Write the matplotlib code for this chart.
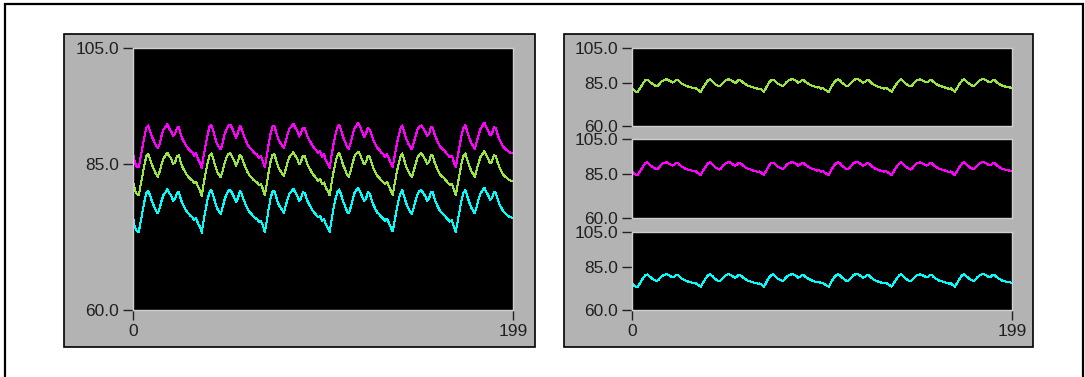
import numpy as np
import matplotlib.pyplot as plt
from matplotlib.patches import Rectangle

plt.rcParams['font.family'] = ['Liberation Sans', 'DejaVu Sans']

# values, one sample per x step (0..199)
green = [82.2, 80.6, 79.9,
         79.7, 81.4, 83.2, 85.0, 86.4, 86.8, 85.9, 84.9, 84.1, 83.4, 82.9, 83.8, 85.1, 86.1, 86.5, 87.0, 86.4,
         86.0, 85.1, 85.3, 86.4, 86.6, 85.4, 84.5, 83.9, 83.3, 82.9, 82.5, 82.3, 81.8, 82.0, 81.2, 80.6,
         79.6, 81.7, 83.5, 85.2, 86.5, 86.9, 86.0, 84.8, 83.8, 83.2, 82.8, 84.0, 85.3, 86.2, 86.8, 86.9, 86.3,
         85.6, 84.8, 85.6, 86.7, 86.2, 85.2, 84.4, 83.7, 83.1, 82.8, 82.4, 82.1, 81.9, 81.4, 81.6, 80.8,
         79.7, 81.5, 83.6, 85.4, 86.6, 86.8, 85.7, 84.6, 84.0, 83.5, 83.0, 84.2, 85.4, 86.3, 86.7, 87.1, 86.5,
         86.0, 85.0, 85.5, 86.5, 86.4, 85.3, 84.6, 84.0, 83.4, 83.0, 82.6, 82.2, 82.5, 81.6, 81.9, 81.0, 80.4,
         79.7, 81.8, 83.7, 85.3, 86.5, 87.0, 86.1, 84.9, 84.2, 83.3, 82.9, 83.9, 85.2, 86.4, 86.9, 87.2, 86.6,
         85.8, 85.0, 85.4, 86.5, 86.3, 85.2, 84.3, 83.6, 83.0, 82.7, 82.3, 82.0, 81.6, 82.0, 81.3, 80.5,
         79.8, 81.6, 83.4, 85.0, 86.3, 86.9, 85.8, 84.7, 83.9, 83.3, 82.8, 83.9, 85.1, 86.2, 86.7, 86.9, 86.4,
         85.9, 85.1, 85.4, 86.6, 86.5, 85.3, 84.5, 83.8, 83.2, 82.9, 82.6, 82.2, 81.8, 81.5, 81.7, 80.7,
         79.7, 81.5, 83.3, 85.1, 86.4, 86.9, 85.9, 84.9, 84.0, 83.4, 82.9, 84.1, 85.3, 86.3, 86.8, 87.3, 86.6,
         86.0, 85.2, 85.5, 86.6, 86.4, 85.3, 84.4, 83.8, 83.2, 82.9, 82.6, 82.3, 82.2, 82.1]

magenta = [86.9, 85.3, 84.6,
           84.5, 86.3, 88.1, 89.8, 91.3, 91.7, 90.6, 89.7, 89.0, 88.2, 87.8, 88.5, 90.0, 91.0, 91.4, 91.9, 91.1,
           90.7, 89.9, 90.2, 91.3, 91.4, 90.1, 89.3, 88.7, 88.1, 87.7, 87.3, 87.1, 86.5, 86.9, 86.0, 85.3,
           84.4, 86.5, 88.3, 90.0, 91.4, 91.8, 90.8, 89.6, 88.5, 88.0, 87.6, 88.8, 90.2, 91.0, 91.7, 91.8, 91.2,
           90.3, 89.6, 90.5, 91.6, 91.0, 90.0, 89.2, 88.4, 87.9, 87.6, 87.2, 86.8, 86.7, 86.1, 86.5, 85.5,
           84.5, 86.3, 88.4, 90.2, 91.5, 91.6, 90.5, 89.4, 88.8, 88.3, 87.8, 89.0, 90.2, 91.2, 91.5, 92.0, 91.3,
           90.8, 89.8, 90.4, 91.3, 91.2, 90.1, 89.4, 88.8, 88.2, 87.8, 87.4, 87.0, 87.3, 86.3, 86.8, 85.7, 85.1,
           84.4, 86.6, 88.5, 90.1, 91.3, 91.8, 90.9, 89.7, 89.0, 88.1, 87.7, 88.7, 90.1, 91.2, 91.7, 92.1, 91.4,
           90.6, 89.8, 90.3, 91.3, 91.0, 90.0, 89.1, 88.4, 87.8, 87.5, 87.0, 86.8, 86.3, 86.8, 86.0, 85.2,
           84.6, 86.4, 88.2, 89.8, 91.1, 91.7, 90.6, 89.5, 88.7, 88.1, 87.6, 88.7, 89.9, 91.0, 91.5, 91.7, 91.2,
           90.7, 89.9, 90.2, 91.4, 91.3, 90.1, 89.3, 88.6, 88.0, 87.7, 87.4, 87.0, 86.6, 86.2, 86.5, 85.4,
           84.5, 86.3, 88.1, 89.9, 91.2, 91.8, 90.7, 89.7, 88.8, 88.2, 87.7, 88.9, 90.1, 91.1, 91.6, 92.2, 91.4,
           90.8, 90.0, 90.3, 91.4, 91.2, 90.1, 89.2, 88.6, 88.0, 87.7, 87.4, 87.1, 87.0, 86.9]

cyan = [75.9, 74.2, 73.5,
        73.4, 75.1, 76.9, 78.7, 80.1, 80.5, 79.6, 78.6, 77.8, 77.1, 76.6, 77.5, 78.8, 79.8, 80.2, 80.8, 80.1,
        79.7, 78.8, 79.0, 80.1, 80.3, 79.1, 78.2, 77.6, 77.0, 76.6, 76.2, 76.0, 75.5, 75.8, 74.9, 74.3,
        73.3, 75.4, 77.2, 78.9, 80.2, 80.6, 79.7, 78.5, 77.5, 76.9, 76.5, 77.7, 79.0, 79.9, 80.5, 80.6, 80.0,
        79.3, 78.5, 79.3, 80.4, 79.9, 78.9, 78.1, 77.4, 76.8, 76.5, 76.1, 75.8, 75.6, 75.1, 75.3, 74.5,
        73.4, 75.2, 77.3, 79.1, 80.3, 80.5, 79.4, 78.3, 77.7, 77.2, 76.7, 77.9, 79.1, 80.0, 80.4, 80.8, 80.2,
        79.7, 78.7, 79.2, 80.2, 80.1, 79.0, 78.3, 77.7, 77.1, 76.7, 76.3, 75.9, 76.2, 75.3, 75.6, 74.7, 74.1,
        73.4, 75.5, 77.4, 79.0, 80.2, 80.7, 79.8, 78.6, 77.9, 77.0, 76.6, 77.6, 78.9, 80.1, 80.6, 80.9, 80.3,
        79.5, 78.7, 79.1, 80.2, 80.0, 78.9, 78.0, 77.3, 76.7, 76.4, 76.0, 75.7, 75.3, 75.7, 75.0, 74.2,
        73.5, 75.3, 77.1, 78.7, 80.0, 80.6, 79.5, 78.4, 77.6, 77.0, 76.5, 77.6, 78.8, 79.9, 80.4, 80.6, 80.1,
        79.6, 78.8, 79.1, 80.3, 80.2, 79.0, 78.2, 77.5, 76.9, 76.6, 76.3, 75.9, 75.5, 75.2, 75.4, 74.4,
        73.4, 75.2, 77.0, 78.8, 80.1, 80.6, 79.6, 78.6, 77.7, 77.1, 76.6, 77.8, 79.0, 80.0, 80.5, 81.0, 80.3,
        79.7, 78.9, 79.2, 80.3, 80.1, 79.0, 78.1, 77.5, 76.9, 76.6, 76.3, 76.0, 75.9, 75.8]

samples = np.arange(len(green))

y_ticks = [60, 85, 105]
y_labels = ['60.0', '85.0', '105.0']
x_ticks = [0, 199]
x_labels = ['0', '199']

W, H = 1085, 377
fig = plt.figure(figsize=(W / 100, H / 100), dpi=100)
fig.patch.set_facecolor('white')


def box(x0, y0, x1, y1):
    # pixel box (top-left origin) -> figure fraction rect
    return [x0 / W, 1 - y1 / H, (x1 - x0) / W, (y1 - y0) / H]


# outer frame (open at the bottom)
fig.add_artist(Rectangle((5 / W, -0.1), 1078 / W, 1.1 - 4 / H, transform=fig.transFigure,
                         fill=False, edgecolor='black', lw=1.6))

# grey panels
for x0, x1 in [(64, 535), (564, 1033)]:
    r = box(x0, 34, x1, 347)
    fig.add_artist(Rectangle((r[0], r[1]), r[2], r[3], transform=fig.transFigure,
                             facecolor='#b3b3b3', edgecolor='black', lw=1.2, zorder=0))


def style(ax, show_x):
    ax.set_facecolor('black')
    ax.set_xlim(0, 199)
    ax.set_ylim(60, 105)
    ax.set_yticks(y_ticks)
    ax.set_yticklabels(y_labels)
    for s in ax.spines.values():
        s.set_color('#cfcfcf')
        s.set_linewidth(1)
    ax.tick_params(axis='y', direction='out', length=7, width=1, color='#202020',
                   labelsize=12.5, labelcolor='#202020', pad=3)
    if show_x:
        ax.set_xticks(x_ticks)
        ax.set_xticklabels(x_labels)
        ax.tick_params(axis='x', direction='out', length=7, width=1, color='#202020',
                       labelsize=12.5, labelcolor='#202020', pad=3)
    else:
        ax.set_xticks([])


colors = {'magenta': '#ff00ff', 'green': '#99e640', 'cyan': '#00ffff'}
line_kw = dict(lw=0.75, antialiased=False)

ax = fig.add_axes(box(133, 48, 513, 310))
style(ax, True)
ax.plot(samples, magenta, color=colors['magenta'], **line_kw)
ax.plot(samples, green, color=colors['green'], **line_kw)
ax.plot(samples, cyan, color=colors['cyan'], **line_kw)

rows = [(48, 126, green, 'green'), (139, 218, magenta, 'magenta'), (232, 310, cyan, 'cyan')]
for i, (y0, y1, vals, c) in enumerate(rows):
    a = fig.add_axes(box(632, y0, 1012, y1))
    style(a, i == len(rows) - 1)
    a.plot(samples, vals, color=colors[c], **line_kw)

fig.savefig('out.png', dpi=100)
